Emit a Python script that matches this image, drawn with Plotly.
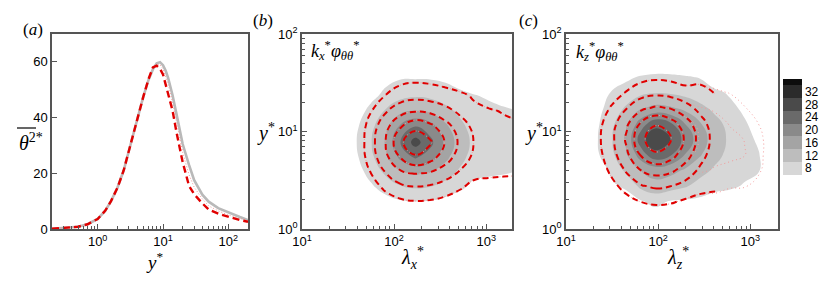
import plotly.graph_objects as go

W, H = 830, 283

# ---------------- panel (a): variance profiles ----------------
y_plus = [0.2, 0.3, 0.5, 0.7, 1.0, 1.3, 1.6, 2.0, 2.5, 3.0, 3.5, 4.0, 5.0, 6.0, 7.0, 8.0,
          9.0, 10, 11, 12, 14, 16, 18, 20, 25, 30, 40, 50, 70, 100, 150, 200]
theta_gray = [0.1, 0.3, 0.8, 1.7, 3.6, 6.5, 10.0, 14.7, 21.0, 28.0, 34.0, 39.5, 47.5, 53.5, 57.3, 59.5,
              59.9, 58.8, 56.8, 54.2, 48.0, 41.5, 35.5, 30.5, 23.0, 17.5, 12.3, 9.8, 7.5, 5.9, 4.3, 3.2]
theta_red_dash = [0.1, 0.3, 0.8, 1.7, 3.6, 6.5, 10.0, 14.7, 21.0, 28.0, 34.0, 39.5, 47.5, 53.8, 58.0, 58.6,
                  57.5, 55.5, 51.5, 48.0, 42.5, 35.0, 29.0, 24.0, 15.5, 12.5, 9.2, 7.0, 5.5, 4.3, 3.2, 2.6]
theta_red_dot = [0.1, 0.3, 0.8, 1.7, 3.6, 6.5, 10.0, 14.7, 21.0, 28.0, 34.0, 39.5, 47.5, 53.6, 57.8, 59.2,
                 59.0, 57.5, 55.0, 52.0, 45.5, 38.5, 32.5, 27.5, 19.5, 15.0, 10.8, 8.3, 6.5, 5.0, 3.8, 3.0]

# ---------------- panel (b): k_x phi spectra (log10 grids) ----------------
lx_b_exp = [1.43, 1.59, 1.75, 1.91, 2.07, 2.23, 2.39, 2.55, 2.71, 2.87, 3.03, 3.19, 3.35]
y_b_exp = [0.09, 0.25, 0.41, 0.57, 0.73, 0.89, 1.05, 1.21, 1.37, 1.53, 1.69, 1.85]
spec_b_gray = [
    [0, 0, 0.1, 1.1, 1.8, 2.0, 1.85, 1.4, 0.8, 1.0, 0.5, 0.5, 0.3],
    [0, 0.5, 2.0, 3.5, 4.7, 5.0, 4.8, 4.0, 3.2, 3.0, 2.5, 2.5, 2.0],
    [0.1, 2.0, 5.0, 7.4, 9.1, 9.8, 9.4, 8.2, 6.4, 5.0, 4.5, 4.5, 4.0],
    [1.1, 4.1, 7.4, 10.5, 13.2, 14.4, 13.6, 11.6, 9.2, 6.7, 6.4, 6.1, 5.8],
    [1.8, 5.4, 9.1, 13.2, 18.9, 22.3, 20.0, 15.1, 11.4, 8.2, 7.3, 7.1, 6.8],
    [2.0, 5.9, 9.8, 14.4, 22.3, 27.5, 23.3, 17.3, 12.3, 9.0, 8.3, 8.0, 7.8],
    [1.8, 5.4, 9.1, 13.1, 18.8, 22.2, 19.9, 15.0, 11.3, 8.2, 7.5, 7.2, 6.9],
    [1.1, 4.0, 7.3, 10.4, 13.0, 14.05, 13.4, 11.5, 9.1, 7.1, 6.6, 6.4, 6.05],
    [0, 1.9, 4.8, 7.1, 8.9, 9.5, 9.1, 7.9, 7.0, 6.1, 5.7, 5.0, 4.5],
    [0, 0.4, 1.8, 5.0, 6.1, 6.2, 6.1, 5.6, 4.5, 4.5, 4.0, 3.2, 3.0],
    [0, 0, 0, 0.9, 1.5, 1.7, 1.6, 1.2, 0.5, 2.5, 2.0, 1.5, 1.3],
    [0, 0, 0, 0, 0, 0.2, 0, 0, 0, 1.0, 0.5, 0.3, 0.2],
]
spec_b_red = [
    [0, 0, 0, 0.6, 1.2, 1.5, 1.4, 1.0, 0.5, 0.3, 0.5, 0.5, 0.5],
    [0, 0, 1.0, 3.2, 4.5, 5.0, 4.8, 4.1, 2.9, 1.7, 2.5, 2.5, 2.5],
    [0, 1.0, 3.8, 6.6, 8.5, 9.2, 8.8, 7.8, 6.2, 4.5, 5.0, 5.0, 5.2],
    [0.6, 2.0, 6.0, 9.9, 13.0, 14.2, 13.5, 11.8, 9.5, 7.1, 6.4, 6.25, 6.15],
    [1.2, 2.8, 8.0, 13.0, 18.0, 21.4, 19.5, 15.8, 12.3, 9.1, 7.2, 6.9, 6.7],
    [1.5, 3.0, 8.5, 14.2, 21.4, 24.5, 22.6, 17.9, 13.4, 9.8, 8.0, 7.6, 7.3],
    [1.2, 2.8, 7.9, 12.9, 17.7, 21.0, 19.2, 15.7, 12.2, 9.0, 7.2, 6.7, 6.35],
    [0.5, 2.0, 5.8, 9.6, 12.5, 13.7, 13.1, 11.4, 9.2, 6.9, 6.3, 5.8, 5.4],
    [0, 1.0, 3.5, 6.1, 7.9, 8.6, 8.2, 7.3, 6.8, 5.5, 4.5, 4.0, 3.8],
    [0, 0, 0.8, 3.3, 5.0, 5.4, 5.2, 4.8, 3.5, 1.3, 3.0, 2.5, 2.0],
    [0, 0, 0, 0.3, 1.3, 1.5, 1.4, 0.5, 0.2, 1.0, 1.5, 1.2, 1.0],
    [0, 0, 0, 0, 0, 0, 0, 0, 0, 0.5, 0.5, 0.3, 0.3],
]

# ---------------- panel (c): k_z phi spectra (log10 grids) ----------------
lz_c_exp = [1.17, 1.33, 1.49, 1.65, 1.81, 1.97, 2.13, 2.29, 2.45, 2.61, 2.77, 2.93, 3.09, 3.25]
y_c_exp = [0.12, 0.28, 0.44, 0.60, 0.76, 0.92, 1.08, 1.24, 1.40, 1.56, 1.72, 1.88]
spec_c_gray = [
    [0, 0, 0.8, 2.0, 3.2, 3.7, 3.5, 3.0, 2.2, 1.5, 0.8, 0.3, 0, 0],
    [0, 0.9, 2.8, 4.5, 5.5, 7.2, 5.6, 5.3, 5.0, 4.3, 2.8, 1.5, 0.5, 0],
    [0.1, 2.2, 5.5, 6.5, 11.0, 12.5, 11.8, 10.5, 8.5, 7.1, 7.0, 5.6, 3.0, 0.5],
    [1.0, 4.0, 6.5, 10.8, 14.1, 15.9, 15.2, 13.5, 11.5, 9.4, 7.8, 7.3, 6.3, 3.0],
    [1.5, 5.2, 9.0, 13.4, 20.0, 24.5, 22.5, 17.9, 14.4, 11.4, 8.9, 6.6, 6.2, 3.0],
    [1.7, 5.6, 9.5, 14.7, 24.0, 29.5, 26.3, 20.7, 16.0, 12.3, 9.4, 7.1, 5.5, 2.1],
    [1.5, 5.2, 9.0, 13.4, 20.0, 24.5, 22.6, 18.0, 14.4, 11.4, 8.9, 6.6, 4.2, 1.9],
    [0.9, 4.8, 7.3, 10.5, 13.6, 15.1, 14.5, 13.1, 11.1, 9.1, 7.2, 5.2, 2.9, 1.2],
    [0, 1.8, 6.3, 7.4, 9.1, 9.75, 9.5, 8.8, 7.8, 7.0, 5.5, 2.9, 1.4, 0.1],
    [0, 0.3, 1.9, 5.3, 6.3, 6.8, 6.7, 6.3, 5.8, 3.1, 1.8, 0.9, 0.2, 0],
    [0, 0, 0, 1.2, 2.2, 2.5, 2.5, 2.2, 1.5, 1.0, 0.5, 0, 0, 0],
    [0, 0, 0, 0, 0, 0.5, 0, 0, 0, 0, 0, 0, 0, 0],
]
lz_c_red_exp = [1.18, 1.34, 1.50, 1.66, 1.82, 1.98, 2.14, 2.30, 2.46, 2.62]
spec_c_red = [
    [0, 0, 0.6, 1.8, 2.9, 3.3, 3.1, 2.3, 1.4, 1.5],
    [0, 0.6, 2.5, 4.6, 6.1, 6.7, 6.4, 5.4, 4.8, 4.5],
    [0, 1.9, 4.9, 7.6, 9.7, 10.6, 10.0, 8.6, 7.2, 6.8],
    [0.7, 3.5, 7.0, 10.5, 14.1, 15.6, 14.7, 12.2, 9.2, 6.4],
    [1.2, 4.6, 8.5, 13.3, 18.5, 21.5, 19.5, 15.6, 11.4, 7.9],
    [1.5, 5.0, 9.2, 14.7, 21.3, 24.2, 22.3, 17.3, 12.5, 8.5],
    [1.3, 4.6, 8.6, 13.4, 18.7, 21.7, 19.7, 15.7, 11.5, 7.9],
    [0.6, 3.2, 6.6, 9.9, 13.2, 14.6, 13.7, 11.5, 8.7, 7.5],
    [0, 1.4, 3.9, 6.3, 8.2, 8.9, 8.4, 7.2, 7.0, 5.8],
    [0, 0, 1.2, 3.5, 4.8, 5.3, 5.0, 4.5, 5.0, 3.0],
    [0, 0, 0, 0.3, 1.5, 1.8, 1.6, 1.2, 1.5, 1.0],
    [0, 0, 0, 0, 0, 0, 0, 0, 0, 0],
]
lz_c_dot_exp = [2.30, 2.46, 2.62, 2.78, 2.94, 3.10, 3.26]
spec_c_dot = [
    [2.3, 1.4, 1.5, 0.5, 0, 0, 0],
    [5.4, 4.8, 4.8, 3.0, 2.0, 0.5, 0],
    [8.6, 7.2, 7.0, 6.5, 6.4, 3.5, 1.0],
    [12.2, 10.5, 9.6, 9.2, 7.5, 6.5, 2.5],
    [15.6, 12.5, 11.2, 10.6, 10.1, 7.0, 3.0],
    [17.3, 13.5, 11.8, 10.8, 9.9, 7.0, 3.0],
    [15.7, 12.8, 11.2, 9.8, 8.5, 5.8, 2.5],
    [11.5, 10.2, 9.5, 8.3, 6.2, 4.0, 1.0],
    [7.2, 7.0, 6.6, 5.8, 4.5, 1.5, 0],
    [4.5, 5.0, 4.0, 3.0, 1.5, 0, 0],
    [1.2, 1.5, 1.0, 0.5, 0, 0, 0],
    [0, 0, 0, 0, 0, 0, 0],
]

levels_tick = [8, 12, 16, 20, 24, 28, 32]
band_colors = ['#ffffff', '#d7d7d7', '#bdbdbd', '#a4a4a4', '#8a8a8a',
               '#6a6a6a', '#4a4a4a', '#2b2b2b', '#0d0d0d']


def pw(v):
    return [10 ** e for e in v]


nb = len(band_colors) - 1
gray_scale = [[k / nb, c] for k, c in enumerate(band_colors)]

RED = '#e00000'
PINK = '#f29a9a'
AX = '#555555'
TICKFONT = dict(family='Liberation Sans, Arial, sans-serif', size=13, color='black')
SERIF = 'Liberation Serif, Times New Roman, serif'

fig = go.Figure()

# (a)
fig.add_trace(go.Scatter(x=y_plus, y=theta_gray, mode='lines', xaxis='x', yaxis='y',
                         line=dict(color='#b9b9b9', width=2.6), showlegend=False))
fig.add_trace(go.Scatter(x=y_plus, y=theta_red_dot, mode='lines', xaxis='x', yaxis='y',
                         line=dict(color=PINK, width=1, dash='1px,2px'), showlegend=False))
fig.add_trace(go.Scatter(x=y_plus, y=theta_red_dash, mode='lines', xaxis='x', yaxis='y',
                         line=dict(color=RED, width=2.4, dash='7px,4px'), showlegend=False))

# (b)
fig.add_trace(go.Contour(x=pw(lx_b_exp), y=pw(y_b_exp), z=spec_b_gray, xaxis='x2', yaxis='y2',
                         contours=dict(start=6, end=34, size=4, coloring='fill', showlines=False),
                         colorscale=gray_scale, zmin=5.9, zmax=34.9,
                         line=dict(width=0, smoothing=1.3), showscale=True, hoverinfo='skip',
                         colorbar=dict(x=783 / W, xanchor='left', y=1 - 130 / H, yanchor='middle',
                                       len=102, lenmode='pixels', thickness=19, thicknessmode='pixels',
                                       outlinewidth=0, xpad=0, ypad=0, tickvals=levels_tick,
                                       ticks='', tickfont=dict(TICKFONT, size=12))))
fig.add_trace(go.Contour(x=pw(lx_b_exp), y=pw(y_b_exp), z=spec_b_red, xaxis='x2', yaxis='y2',
                         contours=dict(start=6, end=22, size=4, coloring='none'),
                         line=dict(color=PINK, width=1, dash='1px,2px', smoothing=1.3),
                         showscale=False, hoverinfo='skip'))
fig.add_trace(go.Contour(x=pw(lx_b_exp), y=pw(y_b_exp), z=spec_b_red, xaxis='x2', yaxis='y2',
                         contours=dict(start=6, end=22, size=4, coloring='none'),
                         line=dict(color=RED, width=2, dash='6px,4px', smoothing=1.3),
                         showscale=False, hoverinfo='skip'))

# (c)
fig.add_trace(go.Contour(x=pw(lz_c_exp), y=pw(y_c_exp), z=spec_c_gray, xaxis='x3', yaxis='y3',
                         contours=dict(start=6, end=34, size=4, coloring='fill', showlines=False),
                         colorscale=gray_scale, zmin=5.9, zmax=34.9,
                         line=dict(width=0, smoothing=1.3), showscale=False, hoverinfo='skip'))
fig.add_trace(go.Contour(x=pw(lz_c_dot_exp), y=pw(y_c_exp), z=spec_c_dot, xaxis='x3', yaxis='y3',
                         contours=dict(start=6, end=14, size=4, coloring='none'),
                         line=dict(color=PINK, width=1, dash='1px,3px', smoothing=1.3),
                         showscale=False, hoverinfo='skip'))
fig.add_trace(go.Contour(x=pw(lz_c_red_exp), y=pw(y_c_exp), z=spec_c_red, xaxis='x3', yaxis='y3',
                         contours=dict(start=6, end=22, size=4, coloring='none'),
                         line=dict(color=PINK, width=1, dash='1px,2px', smoothing=1.3),
                         showscale=False, hoverinfo='skip'))
fig.add_trace(go.Contour(x=pw(lz_c_red_exp), y=pw(y_c_exp), z=spec_c_red, xaxis='x3', yaxis='y3',
                         contours=dict(start=6, end=22, size=4, coloring='none'),
                         line=dict(color=RED, width=2, dash='6px,4px', smoothing=1.3),
                         showscale=False, hoverinfo='skip'))

ydom = [1 - 229 / H, 1 - 34 / H]
common = dict(showline=True, linecolor=AX, linewidth=1.5, mirror=True, ticks='inside',
              ticklen=5, tickcolor=AX, tickwidth=1, showgrid=False, zeroline=False,
              tickfont=TICKFONT, automargin=False)
minor_log = dict(ticks='inside', ticklen=3, tickcolor=AX, tickwidth=1, showgrid=False, dtick='D1')


def sup(n):
    return '10<sup>%d</sup>' % n


fig.update_layout(
    width=W, height=H, margin=dict(l=0, r=0, t=0, b=0, pad=0, autoexpand=False),
    paper_bgcolor='white', plot_bgcolor='white', showlegend=False,
    xaxis=dict(domain=[52 / W, 248 / W], type='log', range=[-0.699, 2.301], anchor='y',
               tickvals=[1, 10, 100], ticktext=[sup(0), sup(1), sup(2)], minor=minor_log, **common),
    yaxis=dict(domain=ydom, range=[0, 70], anchor='x', tickvals=[0, 20, 40, 60], **common),
    xaxis2=dict(domain=[302 / W, 512 / W], type='log', range=[1, 3.28], anchor='y2',
                tickvals=[10, 100, 1000], ticktext=[sup(1), sup(2), sup(3)], minor=minor_log, **common),
    yaxis2=dict(domain=ydom, type='log', range=[0, 2], anchor='x2',
                tickvals=[1, 10, 100], ticktext=[sup(0), sup(1), sup(2)], minor=minor_log, **common),
    xaxis3=dict(domain=[566 / W, 778 / W], type='log', range=[1, 3.30], anchor='y3',
                tickvals=[10, 100, 1000], ticktext=[sup(1), sup(2), sup(3)], minor=minor_log, **common),
    yaxis3=dict(domain=ydom, type='log', range=[0, 2], anchor='x3',
                tickvals=[1, 10, 100], ticktext=[sup(0), sup(1), sup(2)], minor=minor_log, **common),
)


def ann(text, px, py, size=19, xanchor='center'):
    fig.add_annotation(text=text, x=px / W, y=1 - py / H, xref='paper', yref='paper',
                       xanchor=xanchor, yanchor='middle', showarrow=False,
                       font=dict(family=SERIF, size=size, color='black'))


ann('(<i>a</i>)', 33, 29, 17)
ann('(<i>b</i>)', 263, 21, 17)
ann('(<i>c</i>)', 528, 21, 17)
ann('<i>θ</i><sup>2</sup><sup>*</sup>', 31, 142, 20)
# overline over theta^2
fig.add_shape(type='line', xref='paper', yref='paper', x0=17 / W, x1=36 / W,
              y0=1 - 128 / H, y1=1 - 128 / H, line=dict(color='black', width=1.2))
ann('<i>y</i><sup>*</sup>', 154, 261, 19)
ann('<i>y</i><sup>*</sup>', 266, 132, 20)
ann('<i>y</i><sup>*</sup>', 534, 132, 20)
ann('<i>λ</i><sub><i>x</i></sub><sup>*</sup>', 412, 258, 20)
ann('<i>λ</i><sub><i>z</i></sub><sup>*</sup>', 678, 258, 20)
ann('<i>k</i><sub><i>x</i></sub><sup>*</sup><i>φ</i><sub><i>θθ</i></sub><sup>*</sup>', 309, 50, 18, 'left')
ann('<i>k</i><sub><i>z</i></sub><sup>*</sup><i>φ</i><sub><i>θθ</i></sub><sup>*</sup>', 574, 52, 18, 'left')

fig.write_html('out.html', config={'displayModeBar': False},
               post_script="document.body.style.margin='0px';document.body.style.overflow='hidden';")
